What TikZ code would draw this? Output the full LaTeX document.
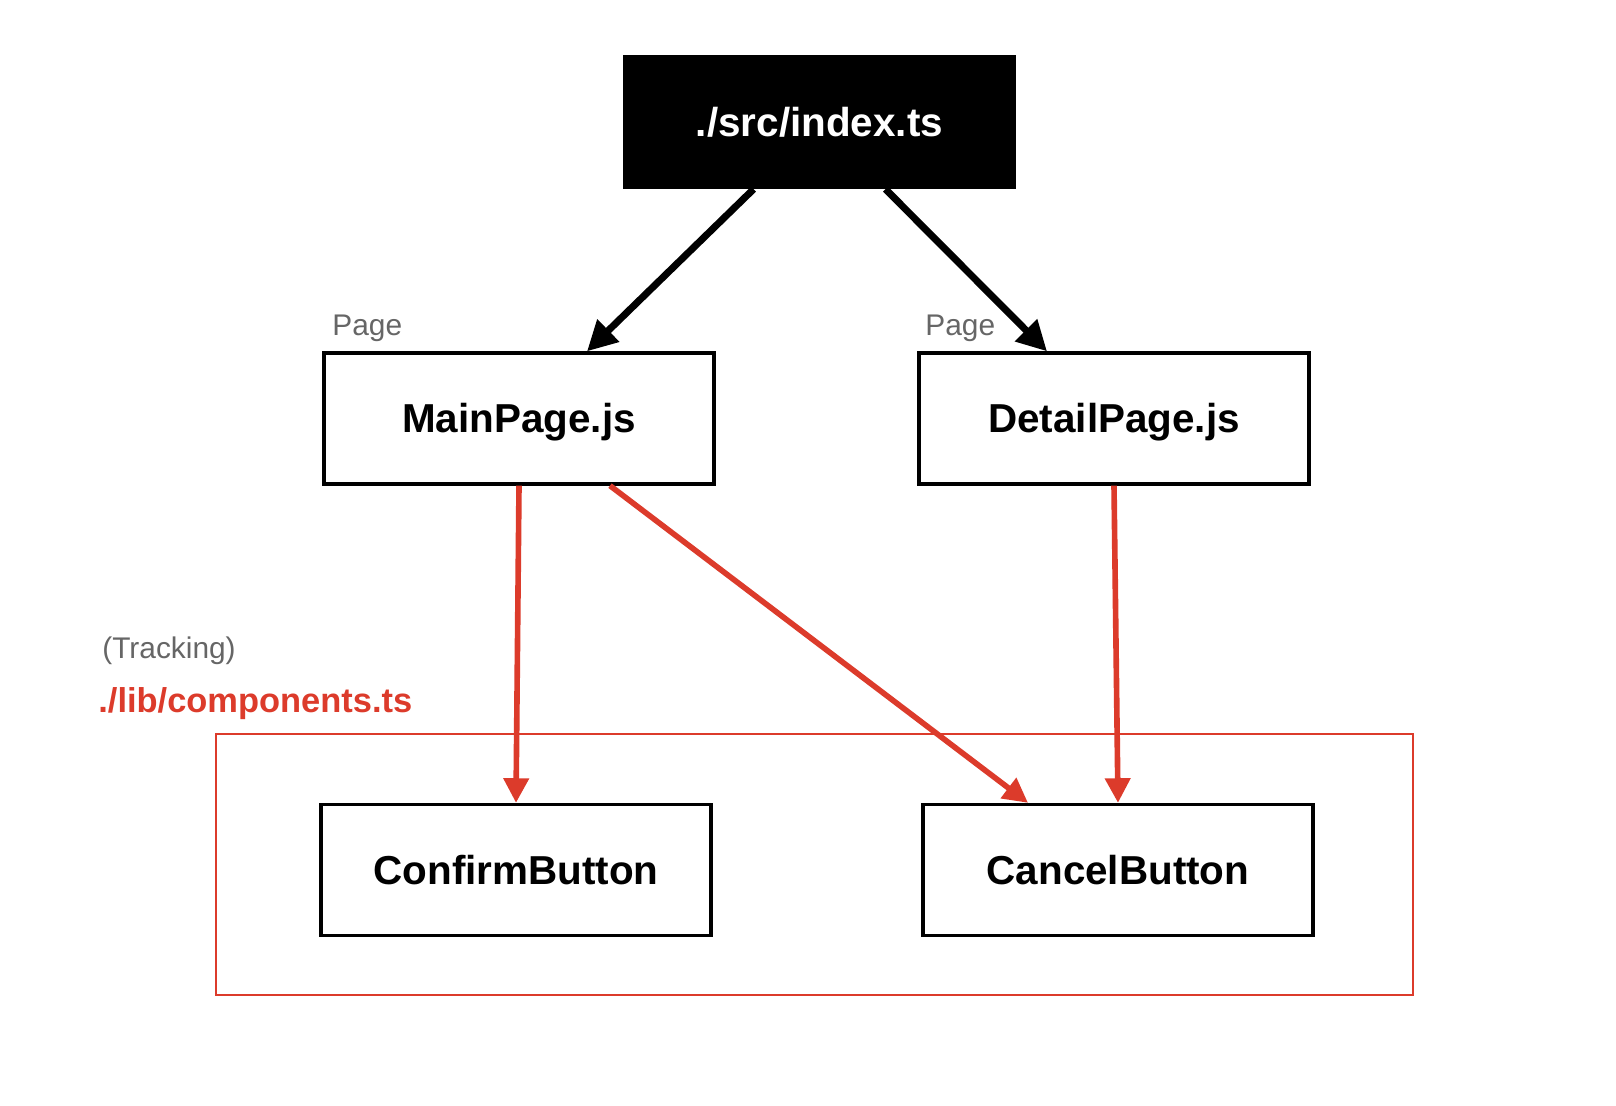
\documentclass[tikz,border=0pt]{standalone}
\usepackage{fontspec}
\setmainfont{Liberation Sans}
\usetikzlibrary{arrows.meta}
\definecolor{trackred}{HTML}{DC3B2B}
\definecolor{labelgray}{HTML}{666666}
\tikzset{
  filebox/.style={draw=black, line width=1.9pt, minimum width=7.8cm, minimum height=2.62cm,
    inner sep=0pt, text height=16.5pt, text depth=0pt, font=\fontsize{23}{27}\selectfont\bfseries},
  entrybox/.style={filebox, fill=black, text=white},
  blackarrow/.style={line width=4pt, -{Triangle[length=17pt,width=17pt]}},
  redarrow/.style={draw=trackred, line width=3.2pt, -{Triangle[length=14pt,width=14pt]}},
  pagelabel/.style={text=labelgray, font=\fontsize{17}{20}\selectfont, anchor=base west, inner sep=0pt}
}
\newcommand{\filenode}[4]{\node[filebox] (#1) at ( #2 , #3 ) {#4};}
\newcommand{\pagenote}[4]{\node[pagelabel] (#1) at ( #2 , #3 ) {#4};}

\begin{document}
\begin{tikzpicture}
\useasboundingbox (0,0) rectangle (32.32,-22.12);
% entry point
\node[entrybox] (index) at (16.39,-2.44) {./src/index.ts};
% pages
\filenode{mainpage}{10.38}{-8.37}{MainPage.js}
\filenode{detailpage}{22.28}{-8.37}{DetailPage.js}
\pagenote{mainnote}{6.64}{-6.72}{Page}
\pagenote{detailnote}{18.5}{-6.72}{Page}
% tracked components
\draw[trackred, line width=1.6pt] (4.32,-14.68) rectangle (28.26,-19.9);
\pagenote{trackingnote}{2.04}{-13.16}{(Tracking)}
\node[pagelabel, text=trackred, font=\fontsize{19.6}{23}\selectfont\bfseries] (libnote) at (1.96,-14.24) {./lib/components.ts};
\filenode{confirm}{10.32}{-17.4}{ConfirmButton}
\filenode{cancel}{22.36}{-17.4}{CancelButton}
% entry to pages
\draw[blackarrow] ([xshift=-1.32cm]index.south) -- ([xshift=1.36cm]mainpage.north);
\draw[blackarrow] ([xshift=1.32cm]index.south) -- ([xshift=-1.34cm]detailpage.north);
% pages to components
\draw[redarrow] (mainpage.south) -- (confirm.north);
\draw[redarrow] ([xshift=1.82cm]mainpage.south) -- ([xshift=-1.8cm]cancel.north);
\draw[redarrow] (detailpage.south) -- (cancel.north);
\end{tikzpicture}
\end{document}
